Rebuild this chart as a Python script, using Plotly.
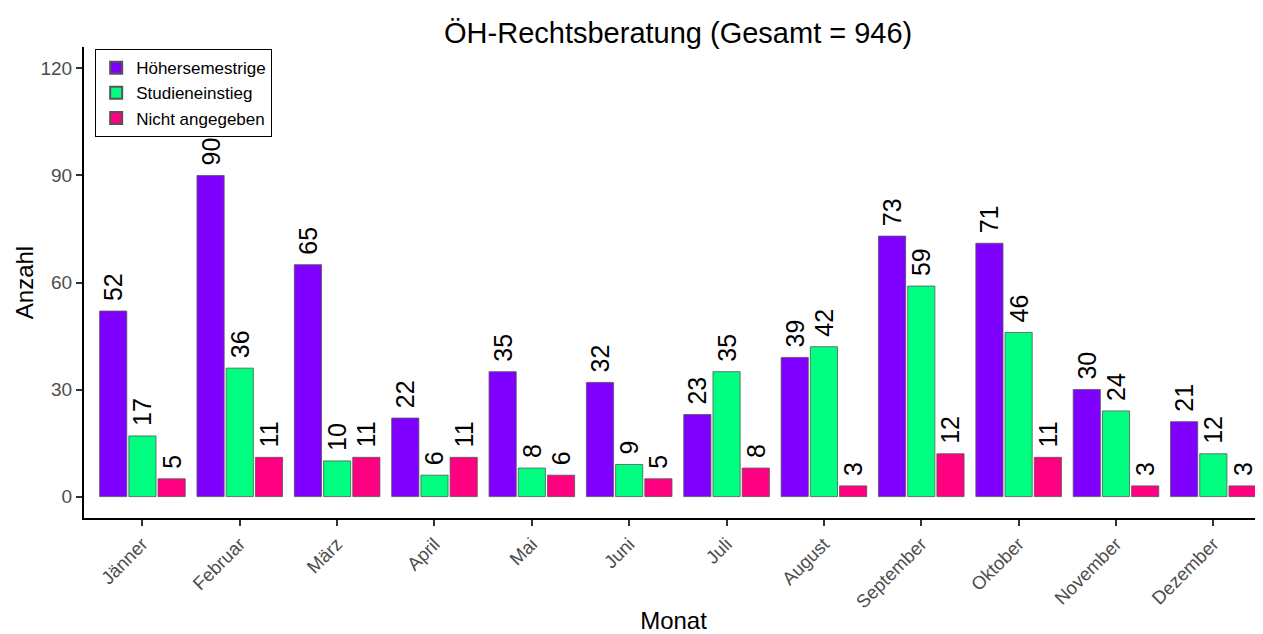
import plotly.graph_objects as go

months = ["Jänner", "Februar", "März", "April", "Mai", "Juni", "Juli",
          "August", "September", "Oktober", "November", "Dezember"]
hoeher = [52, 90, 65, 22, 35, 32, 23, 39, 73, 71, 30, 21]
einstieg = [17, 36, 10, 6, 8, 9, 35, 42, 59, 46, 24, 12]
nicht = [5, 11, 11, 11, 6, 5, 8, 3, 12, 11, 3, 3]

series = [
    ("Höhersemestrige", hoeher, "#8000FF"),
    ("Studieneinstieg", einstieg, "#00FF80"),
    ("Nicht angegeben", nicht, "#FF0080"),
]

FONT = "Liberation Sans, Arial, sans-serif"
fig = go.Figure()
for name, vals, col in series:
    fig.add_trace(go.Bar(
        x=months, y=vals, name=name,
        marker=dict(color=col, line=dict(color="#555555", width=0.8)),
        text=["\u00a0" + str(v) for v in vals],
        textposition="outside", textangle=-90,
        constraintext="none", cliponaxis=False,
        textfont=dict(family=FONT, size=25, color="black"),
    ))

fig.update_layout(
    width=1255, height=626,
    barmode="group", bargap=0.1, bargroupgap=0.07,
    plot_bgcolor="white", paper_bgcolor="white",
    margin=dict(l=76, r=0, t=38.5, b=115.5, autoexpand=False),
    font=dict(family=FONT),
    title=dict(text="ÖH-Rechtsberatung (Gesamt = 946)", x=0.534, xanchor="center",
               y=0.960, yanchor="middle", yref="container",
               font=dict(size=29, color="black", family=FONT)),
    legend=dict(x=0.0093, y=0.9958, xanchor="left", yanchor="top",
                bgcolor="white", bordercolor="black", borderwidth=1.2,
                font=dict(size=17, color="black", family=FONT),
                tracegroupgap=0, itemsizing="constant"),
    showlegend=True,
)
fig.update_xaxes(
    range=[-0.6, 11.51], showline=True, linecolor="black", linewidth=2,
    ticks="outside", ticklen=6, tickwidth=1.5, tickcolor="#333333",
    tickangle=-45, tickfont=dict(size=18.5, color="#4d4d4d", family=FONT),
    showgrid=False, zeroline=False, automargin=False,
    title=dict(text="Monat", font=dict(size=24, color="black", family=FONT), standoff=4),
)
fig.update_yaxes(
    range=[-6, 126], tickvals=[0, 30, 60, 90, 120], showline=True,
    linecolor="black", linewidth=2, ticks="outside", ticklen=6, tickwidth=1.5,
    tickcolor="#333333", tickfont=dict(size=19, color="#4d4d4d", family=FONT),
    showgrid=False, zeroline=False, automargin=False,
    title=dict(text="Anzahl", font=dict(size=24, color="black", family=FONT), standoff=0),
)
fig.write_html("out.html")
